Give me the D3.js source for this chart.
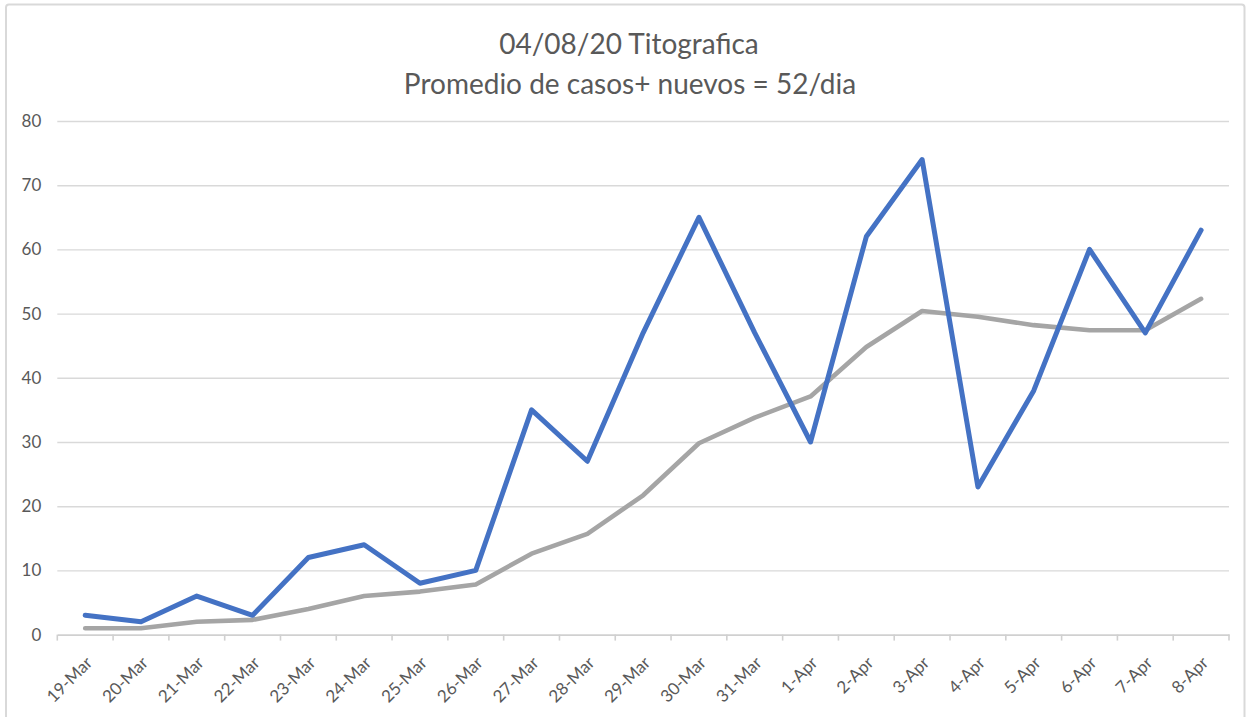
<!DOCTYPE html>
<html>
<head>
<meta charset="utf-8">
<script src="https://cdn.jsdelivr.net/npm/d3@7"></script>
<style>
  html, body { margin: 0; padding: 0; background: #fff; }
  svg { display: block; }
  text { font-family: Lato, "Open Sans", sans-serif; fill: #595959; }
</style>
</head>
<body>
<svg id="chart" width="1249" height="717"></svg>
<script>
// ---- data ----
const categories = ["19-Mar","20-Mar","21-Mar","22-Mar","23-Mar","24-Mar","25-Mar","26-Mar","27-Mar","28-Mar","29-Mar","30-Mar","31-Mar","1-Apr","2-Apr","3-Apr","4-Apr","5-Apr","6-Apr","7-Apr","8-Apr"];
const dailyCases = [3, 2, 6, 3, 12, 14, 8, 10, 35, 27, 47, 65, 47, 30, 62, 74, 23, 38, 60, 47, 63];
const averageCases = [1, 1, 2, 2.3, 4, 6, 6.7, 7.8, 12.6, 15.7, 21.7, 29.8, 33.8, 37.1, 44.8, 50.4, 49.5, 48.2, 47.4, 47.4, 52.3];
const yTicks = [0, 10, 20, 30, 40, 50, 60, 70, 80];
const titleLines = ["04/08/20 Titografica", "Promedio de casos+ nuevos = 52/dia"];

// ---- layout ----
const svg = d3.select("#chart");
const margin = { left: 57.3, right: 1229, top: 121, bottom: 634.6 };

svg.append("rect")
  .attr("x", 6).attr("y", 4.5)
  .attr("width", 1238.5).attr("height", 730)
  .attr("rx", 3)
  .attr("fill", "none").attr("stroke", "#d9d9d9").attr("stroke-width", 2);

const x = d3.scaleBand().domain(categories).range([margin.left, margin.right]);
const y = d3.scaleLinear().domain([0, 80]).range([margin.bottom, margin.top]);

// gridlines
const grid = svg.append("g")
  .attr("transform", `translate(${margin.left},0)`)
  .call(d3.axisLeft(y).tickValues(yTicks.filter(d => d > 0)).tickSize(-(margin.right - margin.left)).tickFormat(""));
grid.select(".domain").remove();
grid.selectAll("line").attr("stroke", "#d9d9d9").attr("stroke-width", 1.4);

// y labels
const yAxis = svg.append("g")
  .attr("transform", `translate(${margin.left},0)`)
  .call(d3.axisLeft(y).tickValues(yTicks).tickSize(0).tickPadding(16));
yAxis.select(".domain").remove();
yAxis.selectAll("text")
  .style("font-family", "Lato, 'Open Sans', sans-serif")
  .style("font-size", "17px").attr("fill", "#595959");

// x axis
const xAxis = svg.append("g")
  .attr("transform", `translate(0,${margin.bottom})`)
  .call(d3.axisBottom(x).tickSize(0));
xAxis.select(".domain").attr("stroke", "#d0d0d0").attr("stroke-width", 1.6);
xAxis.selectAll(".tick line").remove();
// tick marks at band boundaries
const boundaries = categories.map(c => x(c)).concat([x(categories[categories.length - 1]) + x.bandwidth()]);
xAxis.selectAll(".bnd").data(boundaries).enter().append("line")
  .attr("x1", d => d).attr("x2", d => d).attr("y1", 0).attr("y2", 6)
  .attr("stroke", "#d0d0d0").attr("stroke-width", 1.6);
xAxis.selectAll(".tick text")
  .style("font-family", "Lato, 'Open Sans', sans-serif")
  .style("font-size", "17px").attr("fill", "#595959")
  .attr("text-anchor", "end")
  .attr("dy", "0.35em")
  .attr("transform", "translate(4,25) rotate(-45)")
  .attr("y", 0).attr("x", 0);

// lines
const cx = c => x(c) + x.bandwidth() / 2;
const lineGen = vals => d3.line().x((d, i) => cx(categories[i])).y(d => y(d))(vals);

svg.append("path")
  .attr("d", lineGen(averageCases))
  .attr("fill", "none").attr("stroke", "#a5a5a5").attr("stroke-width", 4.6)
  .attr("stroke-linejoin", "round").attr("stroke-linecap", "round");

svg.append("path")
  .attr("d", lineGen(dailyCases))
  .attr("fill", "none").attr("stroke", "#4472c4").attr("stroke-width", 5)
  .attr("stroke-linejoin", "round").attr("stroke-linecap", "round");

// title
svg.append("text")
  .attr("x", 629).attr("y", 54)
  .attr("text-anchor", "middle")
  .style("font-size", "28px")
  .text(titleLines[0]);
svg.append("text")
  .attr("x", 630).attr("y", 94)
  .attr("text-anchor", "middle")
  .style("font-size", "28px")
  .text(titleLines[1]);
</script>
</body>
</html>
